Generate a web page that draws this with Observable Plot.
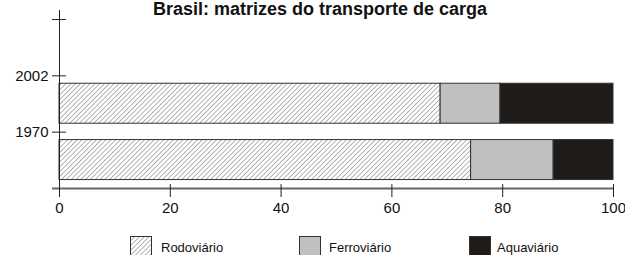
<!DOCTYPE html>
<html><head><meta charset="utf-8">
<script src="https://cdn.jsdelivr.net/npm/d3@7"></script>
<script src="https://cdn.jsdelivr.net/npm/@observablehq/plot@0.6"></script>
<style>
body{margin:0;background:#fff;font-family:"Liberation Sans",Arial,sans-serif;}
#wrap{position:relative;width:625px;height:255px;overflow:hidden;}
#title{position:absolute;top:0px;left:0;width:640px;text-align:center;font-weight:bold;font-size:18px;line-height:18px;color:#111;}
#chart{position:absolute;top:0;left:0;}
.leg{position:absolute;top:236px;font-size:13px;color:#111;}
.leg svg{position:absolute;left:0;top:0;}
.leg span{position:absolute;top:4px;white-space:nowrap;line-height:15px;}
svg text{font-family:"Liberation Sans",Arial,sans-serif;}
</style></head>
<body><div id="wrap">
<div id="chart"></div>
<div id="title">Brasil: matrizes do transporte de carga</div>
<div id="legend"></div>
</div>
<script>
const modes = ["Rodoviário", "Ferroviário", "Aquaviário"];
const years = ["1970", "2002"];
const rodoviario = [74.3, 68.8];
const ferroviario = [14.9, 10.8];
const aquaviario = [10.8, 20.4];
const xTicks = [0, 20, 40, 60, 80, 100];
const yLabels = ["1970", "2002", ""];

const fills = ["url(#hatch)", "#c0c0c0", "#1f1b18"];
const series = [rodoviario, ferroviario, aquaviario];

const rows = [];
years.forEach((yr, i) => {
  let acc = 0;
  series.forEach((s, k) => {
    rows.push({year: yr, mode: modes[k], x1: acc, x2: acc + s[i], y1: i + 0.15, y2: i + 0.86, fill: fills[k]});
    acc += s[i];
  });
});

const chart = Plot.plot({
  width: 625, height: 225,
  marginLeft: 59, marginRight: 12, marginTop: 10, marginBottom: 37,
  style: {fontFamily: '"Liberation Sans", Arial, sans-serif', fontSize: "15px", color: "#111", background: "transparent"},
  x: {domain: [0, 100], axis: null},
  y: {domain: [0, 3.16], axis: null},
  marks: [
    Plot.rectX(rows, {x1: "x1", x2: "x2", y1: "y1", y2: "y2", fill: "fill", stroke: "#333", strokeWidth: 1}),
    Plot.ruleY([0], {x1: -1.26, x2: 100, stroke: "#666", strokeWidth: 2}),
    Plot.ruleX([0], {y1: -0.16, y2: 3.16, stroke: "#222", strokeWidth: 1}),
    Plot.ruleX(xTicks, {x: d => d, y1: 0, y2: 0.07, stroke: "#222"}),
    Plot.axisX(xTicks, {tickSize: 9, tickPadding: 5, tickFormat: d => String(d), stroke: "#222", fontSize: 15}),
    Plot.ruleY([1, 2, 3], {y: d => d, x1: 0, x2: 1.26, stroke: "#222"}),
    Plot.axisY([1, 2, 3], {tickSize: 7, tickPadding: 4, tickFormat: d => yLabels[d - 1], stroke: "#222", fontSize: 15})
  ]
});
const defs = `<defs><pattern id="hatch" patternUnits="userSpaceOnUse" width="3.4" height="3.4" patternTransform="rotate(45)"><rect width="3.4" height="3.4" fill="#fff"/><line x1="0" y1="0" x2="0" y2="3.4" stroke="#555" stroke-width="0.9"/></pattern></defs>`;
chart.insertAdjacentHTML("afterbegin", defs);
document.getElementById("chart").appendChild(chart);

const legX = [130, 299, 469];
const legend = document.getElementById("legend");
modes.forEach((m, k) => {
  const d = document.createElement("div");
  d.className = "leg";
  d.style.left = legX[k] + "px";
  d.innerHTML = `<svg width="22" height="22"><defs><pattern id="lh${k}" patternUnits="userSpaceOnUse" width="3.4" height="3.4" patternTransform="rotate(45)"><rect width="3.4" height="3.4" fill="#fff"/><line x1="0" y1="0" x2="0" y2="3.4" stroke="#555" stroke-width="0.9"/></pattern></defs><rect x="0.5" y="0.5" width="21" height="21" fill="${k === 0 ? `url(#lh${k})` : fills[k]}" stroke="#333"/></svg><span style="left:${[31, 30, 28][k]}px">${m}</span>`;
  legend.appendChild(d);
});
</script>
</body></html>
